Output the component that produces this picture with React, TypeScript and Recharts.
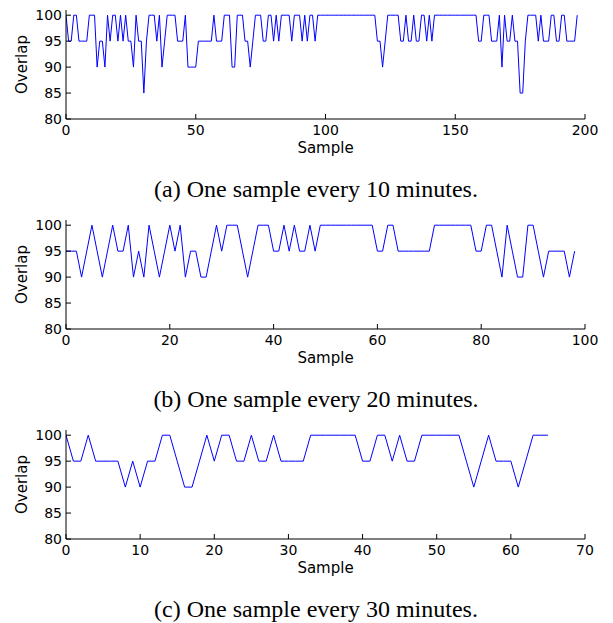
import { LineChart, Line, XAxis, YAxis } from 'recharts';

// overlap per sample
const OVERLAP_10MIN = [
    100, 95, 95, 100, 100, 95, 95, 95, 95, 100,
    100, 100, 90, 95, 95, 90, 100, 95, 100, 100,
    95, 100, 95, 100, 95, 95, 90, 100, 95, 95,
    85, 95, 100, 100, 100, 95, 100, 90, 95, 100,
    100, 100, 100, 95, 95, 95, 100, 90, 90, 90,
    90, 95, 95, 95, 95, 95, 95, 100, 95, 95,
    95, 100, 100, 100, 90, 90, 100, 100, 100, 95,
    95, 90, 95, 100, 100, 100, 95, 95, 100, 100,
    95, 100, 95, 100, 100, 100, 100, 95, 100, 100,
    100, 95, 100, 95, 100, 100, 95, 100, 100, 100,
    100, 100, 100, 100, 100, 100, 100, 100, 100, 100,
    100, 100, 100, 100, 100, 100, 100, 100, 100, 100,
    95, 95, 90, 95, 100, 100, 100, 100, 100, 95,
    95, 100, 95, 95, 100, 95, 95, 100, 100, 95,
    100, 95, 100, 100, 100, 100, 100, 100, 100, 100,
    100, 100, 100, 100, 100, 100, 100, 100, 100, 95,
    95, 100, 100, 100, 95, 95, 95, 100, 90, 100,
    95, 95, 100, 95, 95, 85, 85, 95, 100, 100,
    100, 100, 95, 100, 95, 95, 95, 100, 100, 95,
    95, 100, 100, 95, 95, 95, 95, 100,
];

const OVERLAP_20MIN = [
    95, 95, 95, 90, 95, 100, 95, 90, 95, 100,
    95, 95, 100, 90, 95, 90, 100, 95, 90, 95,
    100, 95, 100, 90, 95, 95, 90, 90, 95, 100,
    95, 100, 100, 100, 95, 90, 95, 100, 100, 100,
    95, 95, 100, 95, 100, 95, 95, 100, 95, 100,
    100, 100, 100, 100, 100, 100, 100, 100, 100, 100,
    95, 95, 100, 100, 95, 95, 95, 95, 95, 95,
    95, 100, 100, 100, 100, 100, 100, 100, 100, 95,
    95, 100, 100, 95, 90, 100, 95, 90, 90, 100,
    100, 95, 90, 95, 95, 95, 95, 90, 95,
];

const OVERLAP_30MIN = [
    100, 95, 95, 100, 95, 95, 95, 95, 90, 95,
    90, 95, 95, 100, 100, 95, 90, 90, 95, 100,
    95, 100, 100, 95, 95, 100, 95, 95, 100, 95,
    95, 95, 95, 100, 100, 100, 100, 100, 100, 100,
    95, 95, 100, 100, 95, 100, 95, 95, 100, 100,
    100, 100, 100, 100, 95, 90, 95, 100, 95, 95,
    95, 90, 95, 100, 100, 100,
];

const Y_TICKS = [80, 85, 90, 95, 100];
const X_TICKS_10 = [0, 50, 100, 150, 200];
const X_TICKS_20 = [0, 20, 40, 60, 80, 100];
const X_TICKS_30 = [0, 10, 20, 30, 40, 50, 60, 70];

const CAPTIONS = [
    '(a) One sample every 10 minutes.',
    '(b) One sample every 20 minutes.',
    '(c) One sample every 30 minutes.',
];

const SANS = '"DejaVu Sans", sans-serif';
const tickStyle = { fill: '#000', fontSize: 14, fontFamily: SANS };

const OverlapLabel = (props: any) => {
    const { viewBox } = props;
    const x = viewBox.x + 1;
    const y = viewBox.y + viewBox.height / 2;
    return (
        <text
            x={x}
            y={y}
            transform={`rotate(-90, ${x}, ${y})`}
            textAnchor="middle"
            fontSize={15}
            fontFamily={SANS}
            fill="#000"
        >
            Overlap
        </text>
    );
};

const Panel = ({ values, xMax, xTicks, top }: { values: number[]; xMax: number; xTicks: number[]; top: number }) => {
    const data = values.map((v, i) => ({ sample: i, overlap: v }));
    return (
        <div style={{ position: 'absolute', left: 0, top }}>
            <LineChart width={613} height={164} data={data} margin={{ top: 10, right: 28, bottom: 0, left: 26 }}>
                <XAxis
                    dataKey="sample"
                    type="number"
                    domain={[0, xMax]}
                    ticks={xTicks}
                    allowDataOverflow
                    height={45}
                    tickSize={-5}
                    tickMargin={11}
                    tick={tickStyle}
                    stroke="#000"
                    axisLine={{ stroke: '#000' }}
                    tickLine={{ stroke: '#000' }}
                    label={{ value: 'Sample', position: 'insideBottom', offset: 11, fill: '#000', fontSize: 15, fontFamily: SANS }}
                />
                <XAxis
                    xAxisId="top"
                    orientation="top"
                    dataKey="sample"
                    type="number"
                    domain={[0, xMax]}
                    ticks={xTicks}
                    allowDataOverflow
                    height={0}
                    tickSize={-5}
                    tick={false}
                    axisLine={{ stroke: '#000' }}
                    tickLine={{ stroke: '#000' }}
                />
                <YAxis
                    type="number"
                    domain={[80, 101]}
                    ticks={Y_TICKS}
                    allowDataOverflow
                    width={40}
                    tickSize={-5}
                    tickMargin={9}
                    tick={tickStyle}
                    axisLine={{ stroke: '#000' }}
                    tickLine={{ stroke: '#000' }}
                    label={<OverlapLabel />}
                />
                <YAxis
                    yAxisId="right"
                    orientation="right"
                    type="number"
                    domain={[80, 101]}
                    ticks={Y_TICKS}
                    allowDataOverflow
                    width={0}
                    tickSize={-5}
                    tick={false}
                    axisLine={{ stroke: '#000' }}
                    tickLine={{ stroke: '#000' }}
                />
                <Line
                    type="linear"
                    dataKey="overlap"
                    stroke="#0000ff"
                    strokeWidth={1}
                    dot={false}
                    isAnimationActive={false}
                />
            </LineChart>
        </div>
    );
};

export default function App() {
    return (
        <div style={{ position: 'absolute', left: 0, top: 0, width: 613, height: 623, background: '#fff' }}>
            <Panel values={OVERLAP_10MIN} xMax={200} xTicks={X_TICKS_10} top={0} />
            <Panel values={OVERLAP_20MIN} xMax={100} xTicks={X_TICKS_20} top={210} />
            <Panel values={OVERLAP_30MIN} xMax={70} xTicks={X_TICKS_30} top={420} />
            <svg width={613} height={623} style={{ position: 'absolute', left: 0, top: 0, pointerEvents: 'none' }}>
                {CAPTIONS.map((c, i) => (
                    <text
                        key={c}
                        x={316}
                        y={197 + i * 210}
                        textAnchor="middle"
                        fontSize={24}
                        fontFamily='"Liberation Serif", serif'
                        fill="#000"
                    >
                        {c}
                    </text>
                ))}
            </svg>
        </div>
    );
}
